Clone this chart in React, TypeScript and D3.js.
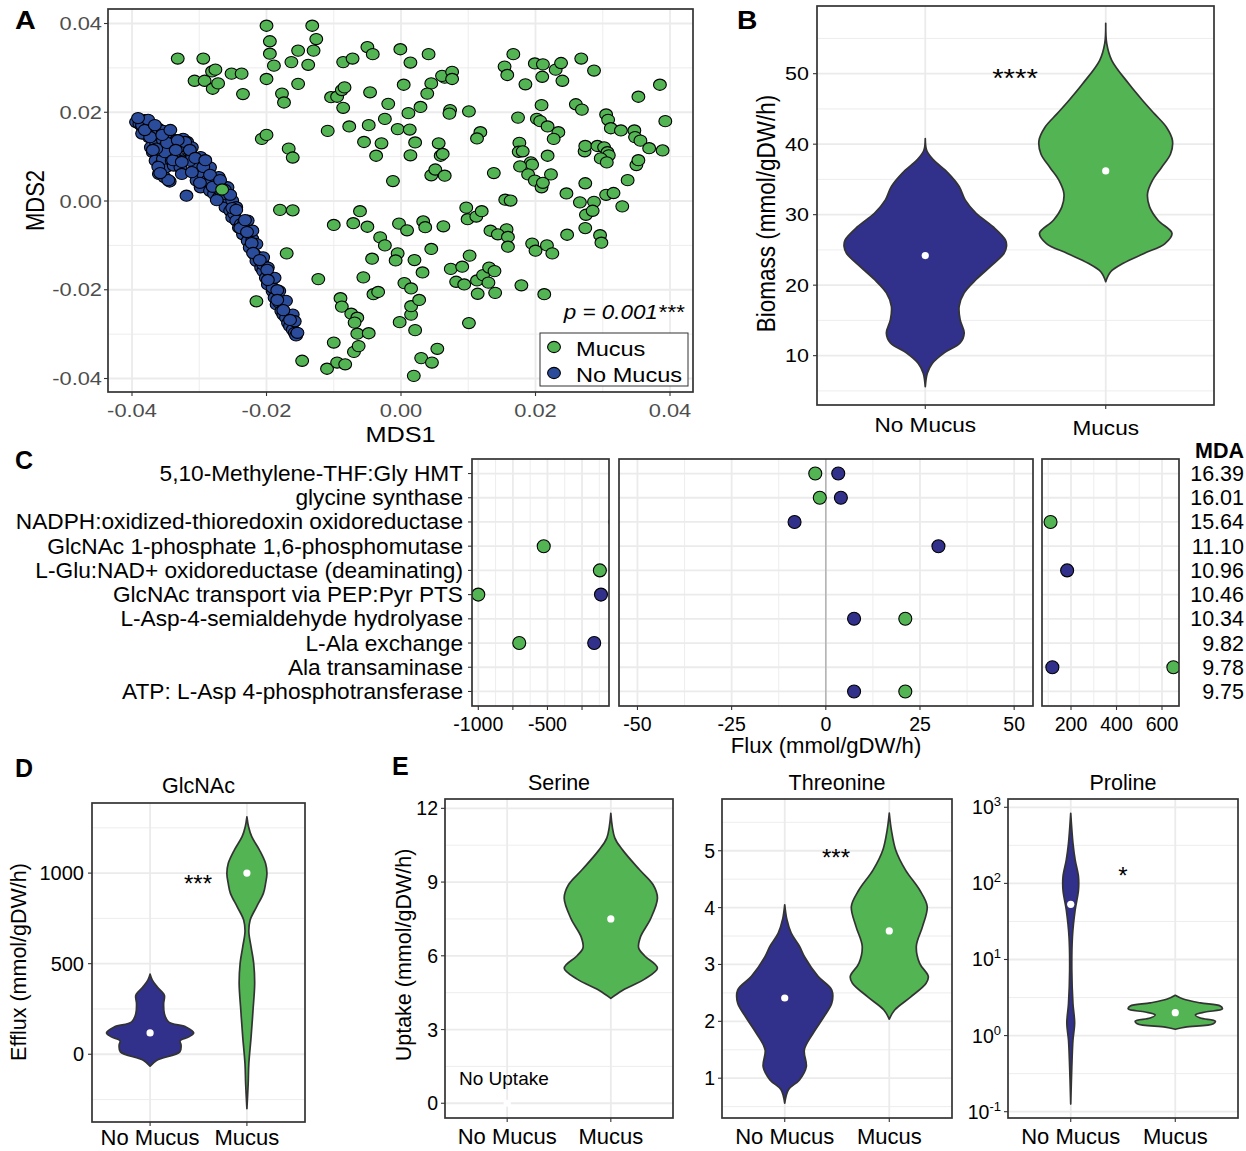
import React from 'react';
import * as d3 from 'd3';

const FONT = '"Liberation Sans", Arial, Helvetica, sans-serif';
const GREEN = '#53B453';
const BLUE_A = '#2B4C9B';
const BLUE = '#31308A';
const GRID = '#EBEBEB';
const DARK = '#333333';

const groups = ['No Mucus', 'Mucus'];

// ---------- A: MDS ordination (coordinates in units of 1e-3) ----------
const mdsTicks = [-40, -20, 0, 20, 40];
const mdsMinor = [-30, -10, 10, 30];
const mucusMDS = [
  [-33.2, 32.1], [-29.4, 32.1], [-30.7, 27.1], [-29.2, 27.1], [-28.1, 29.2], [-27.6, 29.6], [-28.0, 25.3], [-27.2, 26.5], [-25.2, 28.7], [-23.7, 28.7], [-23.5, 24.1],
  [-20.0, 39.5], [-19.5, 36.0], [-19.5, 33.2], [-18.9, 30.5], [-20.0, 27.5], [-16.3, 31.3], [-15.3, 33.9], [-13.2, 39.5], [-12.6, 36.5], [-13.0, 33.9], [-13.8, 30.7], [-15.3, 26.4], [-17.7, 24.2], [-17.4, 22.2],
  [-20.7, 14.0], [-20.0, 14.9], [-16.7, 11.8], [-16.1, 9.8],
  [-8.6, 31.3], [-7.2, 32.1], [-5.0, 34.7], [-4.2, 33.1], [-0.1, 34.2], [1.4, 31.2], [4.1, 33.1], [0.4, 26.2], [4.5, 26.5], [3.9, 24.2], [2.9, 21.2], [1.1, 19.8],
  [-10.4, 23.4], [-9.5, 23.5], [-8.8, 25.0], [-8.4, 25.6], [-4.6, 24.5], [-8.6, 21.0], [-1.9, 21.9], [-2.4, 18.5],
  [-10.9, 15.8], [-7.7, 16.8], [-4.8, 17.1], [-5.5, 13.3], [-2.9, 13.0], [-3.7, 10.2], [-0.5, 16.2], [1.3, 16.1], [2.1, 13.2], [1.4, 10.3],
  [-1.2, 4.5], [4.5, 5.8], [5.1, 7.1], [6.5, 5.7], [5.6, 13.0], [5.9, 10.2], [6.2, 10.6],
  [6.5, 27.8], [6.1, 28.2], [7.6, 29.1], [7.6, 27.5], [7.3, 20.5], [7.2, 19.7], [10.1, 20.2],
  [11.8, 15.5], [11.3, 14.1], [13.8, 6.3],
  [15.4, 30.3], [15.8, 28.4], [16.7, 33.1], [18.5, 26.3], [19.9, 31.0], [21.1, 30.8], [21.0, 28.0], [23.0, 29.6], [23.8, 31.1], [24.0, 27.1], [26.8, 32.1], [28.7, 29.4],
  [20.9, 21.6], [26.0, 21.8], [26.9, 20.6], [17.4, 18.8], [20.2, 18.5], [20.7, 18.0], [21.8, 16.8], [23.4, 15.5], [22.7, 14.0],
  [17.6, 13.1], [17.5, 11.1], [18.1, 11.2], [19.3, 8.7], [19.5, 8.2], [17.7, 7.8], [18.9, 6.0], [19.9, 4.6], [20.9, 3.1], [21.1, 4.1], [22.3, 6.0], [21.8, 10.2],
  [27.3, 11.2], [27.4, 12.4], [29.2, 12.4], [30.2, 12.1], [30.7, 11.0], [30.9, 10.3], [29.7, 9.6], [30.6, 8.7],
  [30.5, 19.5], [30.8, 18.3], [31.2, 16.4], [32.7, 15.9], [34.7, 15.9], [35.3, 23.5], [38.5, 26.2], [39.3, 18.0],
  [34.8, 14.4], [35.6, 13.6], [36.9, 11.9], [38.9, 11.4],
  [35.0, 8.1], [35.3, 9.2], [33.7, 4.7], [27.4, 4.0], [24.6, 1.7],
  [15.5, 0.3], [16.3, 0.1], [26.6, -0.3], [28.7, -0.2], [30.5, 1.4], [31.6, 1.8], [32.9, -1.2],
  [27.5, -3.1], [28.5, -2.2], [27.4, -6.1], [24.7, -7.6], [29.6, -7.7], [29.8, -9.4],
  [9.7, -1.5], [9.9, -4.1], [11.2, -3.5], [12.0, -2.3], [15.7, -6.4], [13.3, -6.7], [14.4, -7.5], [15.9, -8.1], [15.9, -10.3],
  [19.5, -9.6], [20.0, -11.2], [21.7, -10.0], [22.5, -11.8],
  [-18.0, -2.0], [-16.1, -2.1], [-10.0, -5.4], [-7.1, -5.0], [-6.1, -2.3], [-5.0, -5.8], [-3.1, -8.2], [-2.4, -10.0], [-0.3, -5.1], [0.9, -6.6], [3.3, -4.6], [3.6, -5.9], [6.3, -5.7],
  [-17.0, -11.8], [-4.3, -13.0], [-0.5, -11.8], [-0.8, -13.4], [2.0, -13.3], [4.5, -10.8],
  [-12.3, -17.6], [-5.6, -17.2], [-4.1, -21.0], [-3.4, -20.5], [0.5, -18.5], [1.5, -19.7], [3.2, -16.1],
  [7.4, -15.3], [9.1, -14.8], [8.2, -18.2], [9.4, -18.8], [10.2, -12.3], [11.3, -17.9], [11.4, -20.9], [12.2, -16.7], [13.1, -15.0], [13.9, -15.8], [13.0, -18.4], [14.0, -20.7], [17.9, -19.0], [21.3, -21.0],
  [-21.5, -22.6], [-9.0, -21.9], [-8.8, -23.8], [-7.4, -25.4], [-6.5, -26.3], [-6.9, -27.4], [-6.5, -29.9], [-4.8, -29.8], [1.5, -25.6], [1.5, -23.7], [2.7, -22.3], [2.1, -29.1], [-0.2, -27.3],
  [10.1, -27.5],
  [-10.0, -31.9], [-7.0, -34.0], [-6.3, -32.7], [-14.7, -36.0], [-11.0, -37.8], [-9.5, -36.4], [-8.3, -36.8], [3.0, -35.4], [4.6, -36.4], [5.4, -33.3], [1.9, -39.4],
  [-26.6, 2.6],
];
const noMucusMDS = [
  [-39.4, 17.8], [-38.9, 17.4], [-38.5, 16.8], [-38.1, 18.2], [-37.7, 17.3], [-38.3, 15.9], [-37.3, 16.3], [-37.1, 15.2], [-37.5, 14.4], [-36.7, 13.7],
  [-37.2, 12.1], [-36.4, 12.9], [-36.9, 11.0], [-36.3, 10.3], [-36.5, 9.1], [-35.9, 8.0], [-35.6, 6.9], [-36.0, 6.1], [-35.2, 5.4], [-34.4, 4.4],
  [-35.0, 7.6], [-35.4, 9.5], [-35.7, 11.4], [-36.1, 14.8], [-35.4, 13.7], [-35.0, 12.5], [-34.8, 15.2], [-34.4, 11.0], [-34.1, 9.1], [-33.8, 8.0],
  [-33.4, 12.1], [-33.1, 9.9], [-32.8, 7.6], [-32.4, 9.1], [-32.6, 6.1], [-32.1, 12.9], [-31.9, 1.2], [-31.8, 13.3], [-31.4, 11.4], [-31.1, 9.9],
  [-30.8, 6.9], [-30.4, 4.6], [-30.1, 8.4], [-29.8, 3.1], [-29.4, 6.1], [-29.1, 7.6], [-28.8, 4.6], [-28.4, 2.3], [-28.1, 5.4], [-27.8, 1.6],
  [-27.4, 3.5], [-27.1, 0.8], [-26.8, 2.3], [-26.4, 0.1], [-26.1, -1.4], [-25.8, 0.8], [-25.4, -2.2], [-25.1, -3.7], [-24.8, -2.9], [-24.5, -4.4],
  [-24.1, -6.0], [-23.8, -5.2], [-23.5, -7.5], [-23.1, -6.7], [-22.8, -9.0], [-22.5, -10.5], [-22.1, -8.6], [-21.8, -12.0], [-21.5, -13.5], [-21.1, -12.7],
  [-20.8, -15.0], [-20.5, -15.8], [-20.1, -17.3], [-19.8, -18.8], [-19.5, -18.0], [-19.1, -20.3], [-18.8, -21.8], [-18.5, -23.3], [-18.1, -22.9], [-17.8, -24.8],
  [-17.5, -25.6], [-17.1, -26.3], [-16.8, -27.5], [-16.5, -28.2], [-16.1, -29.0], [-15.8, -29.7], [-15.6, -30.3], [-20.5, -14.3], [-19.1, -19.5], [-23.3, -4.8],
  [-26.4, 1.6], [-28.4, 4.2], [-30.4, 8.0], [-31.4, 9.1], [-33.1, 12.1], [-33.8, 10.6], [-35.1, 11.0], [-36.4, 11.8], [-37.7, 15.5], [-38.5, 15.2],
  [-36.7, 17.0], [-36.1, 16.3], [-35.4, 15.8], [-33.4, 13.7], [-32.4, 14.0], [-31.1, 12.1], [-29.8, 9.9], [-28.4, 7.6], [-27.1, 5.4], [-25.8, 3.1],
  [-25.1, 0.1], [-24.5, -1.4], [-22.8, -4.4], [-22.1, -6.7], [-21.5, -9.7], [-20.5, -12.7], [-19.8, -15.0], [-18.8, -17.3], [-18.1, -20.3], [-17.1, -22.5],
  [-16.1, -25.6], [-15.8, -27.1],
  [-38.5, 17.1], [-37.6, 18.3], [-37.3, 14.4], [-36.9, 11.5], [-36.1, 7.7], [-34.6, 4.7], [-35.8, 6.3], [-34.8, 13.1], [-33.9, 9.2], [-32.6, 8.8],
  [-32.1, 13.3], [-31.1, 6.5], [-29.9, 4.1], [-29.4, 7.7], [-28.0, 3.2], [-27.4, 0.2], [-25.1, -1.6], [-23.9, -6.1], [-22.2, -9.5], [-22.0, -11.7],
  [-21.0, -13.3], [-19.9, -15.5], [-19.8, -17.8], [-18.4, -20.1], [-18.4, -22.3], [-17.5, -24.6], [-16.5, -26.8], [-15.4, -29.7],
  [-39.1, 18.7], [-38.1, 16.0], [-36.6, 17.1], [-35.5, 14.9], [-34.3, 16.0], [-33.2, 13.7], [-33.5, 11.5], [-31.4, 11.5], [-30.6, 9.7], [-29.1, 9.2],
  [-28.4, 5.9], [-26.9, 4.7], [-26.2, 2.5], [-25.4, 1.4], [-24.5, -2.0], [-23.2, -4.3], [-22.9, -7.0],
];

// ---------- B: biomass violins ----------
const bioTicks = [10, 20, 30, 40, 50];
const bioMinor = [5, 15, 25, 35, 45, 55];
const bioNoMucusV = [5.6, 7.5, 8.9, 10.4, 11.8, 13.2, 15.1, 17.0, 18.9, 20.8, 22.6, 24.5, 25.5, 26.4, 28.3, 30.2, 32.1, 34.0, 35.9, 37.8, 39.1, 40.8];
const bioNoMucusD = [0, 0.025, 0.086, 0.233, 0.429, 0.479, 0.429, 0.417, 0.479, 0.626, 0.798, 0.969, 1, 0.988, 0.834, 0.626, 0.491, 0.417, 0.282, 0.098, 0.018, 0];
const bioMucusV = [20.5, 21.9, 23.1, 24.5, 25.9, 27.35, 29.2, 31.1, 33.0, 34.9, 36.7, 38.6, 40.5, 42.4, 44.3, 46.2, 48.6, 51.9, 54.3, 57.15];
const bioMucusD = [0, 0.061, 0.215, 0.472, 0.73, 0.816, 0.644, 0.54, 0.515, 0.577, 0.687, 0.798, 0.822, 0.748, 0.601, 0.454, 0.282, 0.074, 0.012, 0];
const bioMedian = [24.2, 36.2];

// ---------- C: reaction fluxes ----------
const reactions = [
  '5,10-Methylene-THF:Gly HMT',
  'glycine synthase',
  'NADPH:oxidized-thioredoxin oxidoreductase',
  'GlcNAc 1-phosphate 1,6-phosphomutase',
  'L-Glu:NAD+ oxidoreductase (deaminating)',
  'GlcNAc transport via PEP:Pyr PTS',
  'L-Asp-4-semialdehyde hydrolyase',
  'L-Ala exchange',
  'Ala transaminase',
  'ATP: L-Asp 4-phosphotransferase',
];
const mdaValues = ['16.39', '16.01', '15.64', '11.10', '10.96', '10.46', '10.34', '9.82', '9.78', '9.75'];
const fluxMucus = [-2.8, -1.6, 110, -527, -121, -1000, 21.1, -704, 650, 21.1];
const fluxNoMucus = [3.3, 4.0, -8.3, 29.9, 183, -113, 7.5, -162, 118, 7.5];
const facetLeftTicks = [-1000, -750, -500, -250];
const facetLeftLabels = [-1000, -500];
const facetLeftMinor = [-875, -625, -375, -125];
const facetMidTicks = [-50, -25, 0, 25, 50];
const facetMidMinor = [-37.5, -12.5, 12.5, 37.5];
const facetRightTicks = [200, 400, 600];
const facetRightMinor = [100, 300, 500];

// ---------- D: GlcNAc efflux ----------
const effTicks = [0, 500, 1000];
const effMinor = [-250, 250, 750, 1250];
const effNoMucusV = [-66, -33, 13, 50, 74, 96, 118, 151, 179, 225, 280, 326, 372, 409, 442];
const effNoMucusD = [0, 0.156, 0.682, 0.711, 0.689, 0.889, 1, 0.822, 0.422, 0.327, 0.311, 0.327, 0.162, 0.051, 0];
const effMucusV = [-300, -162, -52, 96, 243, 390, 501, 593, 676, 740, 814, 888, 943, 998, 1053, 1127, 1201, 1256, 1311];
const effMucusD = [0, 0.029, 0.044, 0.096, 0.14, 0.178, 0.156, 0.096, 0.044, 0.073, 0.222, 0.378, 0.429, 0.46, 0.429, 0.289, 0.111, 0.038, 0];
const effMedian = [118, 1000];

// ---------- E: amino acid uptake ----------
const serTicks = [0, 3, 6, 9, 12];
const serMinor = [1.5, 4.5, 7.5, 10.5];
const serMucusV = [4.27, 4.6, 5.05, 5.5, 6.0, 6.33, 6.78, 7.5, 8.35, 8.9, 9.5, 10.3, 10.8, 11.8];
const serMucusD = [0, 0.255, 0.723, 1, 0.723, 0.596, 0.638, 0.851, 1, 0.904, 0.617, 0.255, 0.085, 0];
const serMedian = [0, 7.5];

const thrTicks = [1, 2, 3, 4, 5];
const thrMinor = [0.5, 1.5, 2.5, 3.5, 4.5, 5.5];
const thrNoMucusV = [0.56, 0.8, 0.97, 1.2, 1.5, 1.79, 2.08, 2.32, 2.55, 2.79, 3.14, 3.32, 3.55, 3.79, 4.05];
const thrNoMucusD = [0, 0.081, 0.313, 0.458, 0.417, 0.604, 0.833, 1, 1, 0.708, 0.417, 0.313, 0.138, 0.046, 0];
const thrMucusV = [2.04, 2.2, 2.43, 2.67, 2.79, 3.02, 3.32, 3.67, 4.02, 4.31, 4.66, 5.01, 5.36, 5.66];
const thrMucusD = [0, 0.115, 0.458, 0.783, 0.829, 0.646, 0.575, 0.708, 0.806, 0.646, 0.346, 0.138, 0.046, 0];
const thrMedian = [2.41, 3.59];

const proExps = [-1, 0, 1, 2, 3];
const proMinorExps = [-0.5, 0.5, 1.5, 2.5];
const proNoMucusV = [0.126, 0.389, 0.871, 1.45, 2.63, 7.24, 20.0, 44.7, 81.3, 123, 204, 339, 832];
const proNoMucusD = [0, 0.023, 0.047, 0.083, 0.047, 0.023, 0.036, 0.094, 0.164, 0.164, 0.094, 0.047, 0];
const proMucusV = [1.21, 1.29, 1.43, 1.55, 1.7, 1.86, 2.04, 2.24, 2.45, 2.69, 3.02, 3.39];
const proMucusD = [0, 0.213, 0.809, 0.851, 0.532, 0.426, 0.638, 1, 0.957, 0.532, 0.17, 0];
const proMedian = [53, 2.0];

type Box = { l: number; r: number; t: number; b: number };

function Txt({ x, y, children, size = 20, anchor = 'middle', sx = 1, rot = 0, weight = 'normal', italic = false, fill = '#000' }: any) {
  const tr = `translate(${x},${y})` + (sx !== 1 ? ` scale(${sx},1)` : '') + (rot ? ` rotate(${rot})` : '');
  return (
    <text transform={tr} fontSize={size} textAnchor={anchor} fontWeight={weight}
      fontStyle={italic ? 'italic' : 'normal'} fill={fill} fontFamily={FONT}>{children}</text>
  );
}

function Grid({ box, h = [], hMin = [], v = [], vMin = [] }: any) {
  return (
    <g>
      {hMin.map((y: number, i: number) => <line key={'a' + i} x1={box.l} x2={box.r} y1={y} y2={y} stroke={GRID} strokeWidth={0.9} />)}
      {vMin.map((x: number, i: number) => <line key={'b' + i} x1={x} x2={x} y1={box.t} y2={box.b} stroke={GRID} strokeWidth={0.9} />)}
      {h.map((y: number, i: number) => <line key={'c' + i} x1={box.l} x2={box.r} y1={y} y2={y} stroke={GRID} strokeWidth={1.8} />)}
      {v.map((x: number, i: number) => <line key={'d' + i} x1={x} x2={x} y1={box.t} y2={box.b} stroke={GRID} strokeWidth={1.8} />)}
    </g>
  );
}

function Border({ box }: { box: Box }) {
  return <rect x={box.l} y={box.t} width={box.r - box.l} height={box.b - box.t} fill="none" stroke={DARK} strokeWidth={1.7} />;
}

function Violin({ vals, dens, cx, y, hw, fill }: any) {
  const pts = vals.map((v: number, i: number) => [v, dens[i]]);
  const path = d3.area<any>()
    .curve(d3.curveCatmullRom.alpha(0.5))
    .y((p) => y(p[0]))
    .x0((p) => cx - hw * p[1])
    .x1((p) => cx + hw * p[1])(pts);
  return <path d={path || ''} fill={fill} stroke={DARK} strokeWidth={1.7} strokeLinejoin="round" />;
}

function Median({ cx, cy }: any) {
  return <circle cx={cx} cy={cy} r={3.6} fill="#FFFFFF" />;
}

export default function App() {
  // ---- A ----
  const A: Box = { l: 108, r: 693, t: 9, b: 392 };
  const sA = 1.15;
  const xA = d3.scaleLinear().domain([-43.57, 43.42]).range([A.l, A.r]);
  const yA = d3.scaleLinear().domain([-43.04, 43.27]).range([A.b, A.t]);
  const fmtA = (v: number) => (v / 1000).toFixed(2);

  // ---- B ----
  const B: Box = { l: 817, r: 1214, t: 6, b: 405 };
  const sB = 1.13;
  const xB = d3.scalePoint<string>().domain(groups).range([B.l, B.r]).padding(0.6);
  const yB = d3.scaleLinear().domain([3.0, 59.6]).range([B.b, B.t]);
  const hwB = xB.step() * 0.45;

  // ---- C ----
  const cTop = 459, cBot = 706;
  const sC = 1.055;
  const yC = d3.scalePoint<string>().domain(reactions).range([cTop, cBot]).padding(0.6);
  const facets = [
    { box: { l: 472, r: 609, t: cTop, b: cBot }, domain: [-1045.5, -55], ticks: facetLeftTicks, labels: facetLeftLabels, minor: facetLeftMinor, zero: false },
    { box: { l: 619, r: 1033, t: cTop, b: cBot }, domain: [-54.9, 55.0], ticks: facetMidTicks, labels: facetMidTicks, minor: facetMidMinor, zero: true },
    { box: { l: 1042, r: 1179, t: cTop, b: cBot }, domain: [72.5, 674.7], ticks: facetRightTicks, labels: facetRightTicks, minor: facetRightMinor, zero: false },
  ].map((f) => ({ ...f, x: d3.scaleLinear().domain(f.domain).range([f.box.l, f.box.r]) }));

  // ---- D ----
  const D: Box = { l: 92, r: 305, t: 803, b: 1122 };
  const xD = d3.scalePoint<string>().domain(groups).range([D.l, D.r]).padding(0.6);
  const yD = d3.scaleLinear().domain([-374, 1387]).range([D.b, D.t]);
  const hwD = xD.step() * 0.45;

  // ---- E ----
  const eTop = 799, eBot = 1118;
  const ES: Box = { l: 445, r: 673, t: eTop, b: eBot };
  const ET: Box = { l: 722, r: 952, t: eTop, b: eBot };
  const EP: Box = { l: 1008, r: 1238, t: eTop, b: eBot };
  const xES = d3.scalePoint<string>().domain(groups).range([ES.l, ES.r]).padding(0.6);
  const xET = d3.scalePoint<string>().domain(groups).range([ET.l, ET.r]).padding(0.6);
  const xEP = d3.scalePoint<string>().domain(groups).range([EP.l, EP.r]).padding(0.6);
  const ySer = d3.scaleLinear().domain([-0.6, 12.38]).range([eBot, eTop]);
  const yThr = d3.scaleLinear().domain([0.3, 5.91]).range([eBot, eTop]);
  const yPro = d3.scaleLog().domain([Math.pow(10, -1.083), Math.pow(10, 3.109)]).range([eBot, eTop]);

  const tick = (x1: number, y1: number, x2: number, y2: number, k: string) => (
    <line key={k} x1={x1} y1={y1} x2={x2} y2={y2} stroke={DARK} strokeWidth={1.1} />
  );

  return (
    <svg width={1246} height={1151} style={{ position: 'absolute', left: 0, top: 0, background: '#fff' }} fontFamily={FONT}>
      <rect x={0} y={0} width={1246} height={1151} fill="#fff" />

      {/* ================= A ================= */}
      <Grid box={A} h={mdsTicks.map(yA)} hMin={mdsMinor.map(yA)} v={mdsTicks.map(xA)} vMin={mdsMinor.map(xA)} />
      {noMucusMDS.map((p, i) => (
        <ellipse key={'nm' + i} cx={xA(p[0])} cy={yA(p[1])} rx={6.4} ry={5.6} fill={BLUE_A} stroke="#000" strokeWidth={1.1} />
      ))}
      {mucusMDS.map((p, i) => (
        <ellipse key={'m' + i} cx={xA(p[0])} cy={yA(p[1])} rx={6.4} ry={5.6} fill={GREEN} stroke="#000" strokeWidth={1.1} />
      ))}
      <Border box={A} />
      {mdsTicks.map((t, i) => tick(A.l - 4, yA(t), A.l, yA(t), 'ay' + i))}
      {mdsTicks.map((t, i) => tick(xA(t), A.b, xA(t), A.b + 4, 'ax' + i))}
      {mdsTicks.map((t) => (
        <Txt key={'ayl' + t} x={A.l - 6} y={yA(t) + 6.7} size={19} anchor="end" sx={sA} fill="#4D4D4D">{fmtA(t)}</Txt>
      ))}
      {mdsTicks.map((t) => (
        <Txt key={'axl' + t} x={xA(t)} y={417} size={19} sx={sA} fill="#4D4D4D">{fmtA(t)}</Txt>
      ))}
      <Txt x={(A.l + A.r) / 2} y={442} size={22} sx={sA}>MDS1</Txt>
      <Txt x={44} y={(A.t + A.b) / 2} size={22} sx={sA} rot={-90}>MDS2</Txt>
      <Txt x={684} y={319} size={19.5} sx={sA} anchor="end" italic>p = 0.001***</Txt>
      <rect x={540} y={333} width={148} height={53} fill="#fff" stroke={DARK} strokeWidth={1} />
      <ellipse cx={554} cy={347} rx={6.4} ry={5.6} fill={GREEN} stroke="#000" strokeWidth={1.1} />
      <ellipse cx={554} cy={373} rx={6.4} ry={5.6} fill={BLUE_A} stroke="#000" strokeWidth={1.1} />
      <Txt x={576} y={356} size={20.5} sx={sA} anchor="start">Mucus</Txt>
      <Txt x={576} y={382} size={20.5} sx={sA} anchor="start">No Mucus</Txt>
      <Txt x={15} y={29} size={25} sx={sA} anchor="start" weight="bold">A</Txt>

      {/* ================= B ================= */}
      <Grid box={B} h={bioTicks.map(yB)} hMin={bioMinor.map(yB)} v={groups.map((g) => xB(g) as number)} />
      <Violin vals={bioNoMucusV} dens={bioNoMucusD} cx={xB('No Mucus')} y={yB} hw={hwB} fill={BLUE} />
      <Violin vals={bioMucusV} dens={bioMucusD} cx={xB('Mucus')} y={yB} hw={hwB} fill={GREEN} />
      {groups.map((g, i) => <Median key={'bm' + g} cx={xB(g)} cy={yB(bioMedian[i])} />)}
      <Border box={B} />
      {bioTicks.map((t, i) => tick(B.l - 4, yB(t), B.l, yB(t), 'by' + i))}
      {groups.map((g, i) => tick(xB(g) as number, B.b, xB(g) as number, B.b + 4, 'bx' + i))}
      {bioTicks.map((t) => (
        <Txt key={'byl' + t} x={B.l - 8} y={yB(t) + 6.7} size={19} anchor="end" sx={sB}>{t}</Txt>
      ))}
      {groups.map((g, i) => (
        <Txt key={'bxl' + g} x={xB(g)} y={432 + i * 3} size={20} sx={sB}>{g}</Txt>
      ))}
      <Txt x={775} y={(B.t + B.b) / 2 + 8} size={22.5} sx={sB} rot={-90}>Biomass (mmol/gDW/h)</Txt>
      <Txt x={1015} y={87} size={26} sx={sB}>****</Txt>
      <Txt x={737} y={29} size={25} sx={sB} anchor="start" weight="bold">B</Txt>

      {/* ================= C ================= */}
      <defs>
        {facets.map((f, i) => (
          <clipPath key={'cp' + i} id={'clipC' + i}>
            <rect x={f.box.l} y={f.box.t} width={f.box.r - f.box.l} height={f.box.b - f.box.t} />
          </clipPath>
        ))}
      </defs>
      {facets.map((f, fi) => (
        <g key={'facet' + fi}>
          <Grid box={f.box} h={reactions.map((r) => yC(r) as number)} v={f.ticks.map(f.x)} vMin={f.minor.map(f.x)} />
          {f.zero && <line x1={f.x(0)} x2={f.x(0)} y1={f.box.t} y2={f.box.b} stroke="#B5B5B5" strokeWidth={1.6} />}
          <g clipPath={`url(#clipC${fi})`}>
            {reactions.map((r, i) => (
              <g key={'pt' + i}>
                <circle cx={f.x(fluxMucus[i])} cy={yC(r)} r={6.5} fill={GREEN} stroke="#000" strokeWidth={1.1} />
                <circle cx={f.x(fluxNoMucus[i])} cy={yC(r)} r={6.5} fill={BLUE} stroke="#000" strokeWidth={1.1} />
              </g>
            ))}
          </g>
          <Border box={f.box} />
          {f.ticks.map((t, i) => tick(f.x(t), f.box.b, f.x(t), f.box.b + 4, 'ct' + fi + '-' + i))}
          {f.labels.map((t) => (
            <Txt key={'ctl' + fi + t} x={f.x(t)} y={731} size={19.5}>{String(t)}</Txt>
          ))}
        </g>
      ))}
      {reactions.map((r, i) => tick(facets[0].box.l - 4, yC(r) as number, facets[0].box.l, yC(r) as number, 'cy' + i))}
      {reactions.map((r) => (
        <Txt key={'cl' + r} x={463} y={(yC(r) as number) + 7.5} size={21.5} sx={sC} anchor="end">{r}</Txt>
      ))}
      <Txt x={1244} y={458} size={21.5} anchor="end" weight="bold">MDA</Txt>
      {reactions.map((r, i) => (
        <Txt key={'mda' + i} x={1244} y={(yC(r) as number) + 7.5} size={21.5} anchor="end">{mdaValues[i]}</Txt>
      ))}
      <Txt x={(facets[1].box.l + facets[1].box.r) / 2} y={753} size={21.5} sx={1.03}>Flux (mmol/gDW/h)</Txt>
      <Txt x={15} y={469} size={25} anchor="start" weight="bold">C</Txt>

      {/* ================= D ================= */}
      <Grid box={D} h={effTicks.map(yD)} hMin={effMinor.map(yD)} v={groups.map((g) => xD(g) as number)} />
      <Violin vals={effNoMucusV} dens={effNoMucusD} cx={xD('No Mucus')} y={yD} hw={hwD} fill={BLUE} />
      <Violin vals={effMucusV} dens={effMucusD} cx={xD('Mucus')} y={yD} hw={hwD} fill={GREEN} />
      {groups.map((g, i) => <Median key={'dm' + g} cx={xD(g)} cy={yD(effMedian[i])} />)}
      <Border box={D} />
      {effTicks.map((t, i) => tick(D.l - 4, yD(t), D.l, yD(t), 'dy' + i))}
      {groups.map((g, i) => tick(xD(g) as number, D.b, xD(g) as number, D.b + 4, 'dx' + i))}
      {effTicks.map((t) => (
        <Txt key={'dyl' + t} x={D.l - 8} y={yD(t) + 7} size={20} anchor="end">{t}</Txt>
      ))}
      {groups.map((g) => (
        <Txt key={'dxl' + g} x={xD(g)} y={1145} size={22}>{g}</Txt>
      ))}
      <Txt x={(D.l + D.r) / 2} y={793} size={21.5}>GlcNAc</Txt>
      <Txt x={26} y={962} size={21.5} rot={-90}>Efflux (mmol/gDW/h)</Txt>
      <Txt x={198} y={892} size={24}>***</Txt>
      <Txt x={15} y={777} size={25} anchor="start" weight="bold">D</Txt>

      {/* ================= E ================= */}
      {/* Serine */}
      <Grid box={ES} h={serTicks.map(ySer)} hMin={serMinor.map(ySer)} v={groups.map((g) => xES(g) as number)} />
      <Violin vals={serMucusV} dens={serMucusD} cx={xES('Mucus')} y={ySer} hw={xES.step() * 0.45} fill={GREEN} />
      {groups.map((g, i) => <Median key={'sm' + g} cx={xES(g)} cy={ySer(serMedian[i])} />)}
      <Border box={ES} />
      {serTicks.map((t, i) => tick(ES.l - 4, ySer(t), ES.l, ySer(t), 'sy' + i))}
      {groups.map((g, i) => tick(xES(g) as number, eBot, xES(g) as number, eBot + 4, 'sx' + i))}
      {serTicks.map((t) => (
        <Txt key={'syl' + t} x={ES.l - 7} y={ySer(t) + 7} size={19.5} anchor="end">{t}</Txt>
      ))}
      <Txt x={459} y={1085} size={19} anchor="start">No Uptake</Txt>

      {/* Threonine */}
      <Grid box={ET} h={thrTicks.map(yThr)} hMin={thrMinor.map(yThr)} v={groups.map((g) => xET(g) as number)} />
      <Violin vals={thrNoMucusV} dens={thrNoMucusD} cx={xET('No Mucus')} y={yThr} hw={xET.step() * 0.45} fill={BLUE} />
      <Violin vals={thrMucusV} dens={thrMucusD} cx={xET('Mucus')} y={yThr} hw={xET.step() * 0.45} fill={GREEN} />
      {groups.map((g, i) => <Median key={'tm' + g} cx={xET(g)} cy={yThr(thrMedian[i])} />)}
      <Border box={ET} />
      {thrTicks.map((t, i) => tick(ET.l - 4, yThr(t), ET.l, yThr(t), 'ty' + i))}
      {groups.map((g, i) => tick(xET(g) as number, eBot, xET(g) as number, eBot + 4, 'tx' + i))}
      {thrTicks.map((t) => (
        <Txt key={'tyl' + t} x={ET.l - 7} y={yThr(t) + 7} size={19.5} anchor="end">{t}</Txt>
      ))}
      <Txt x={(ET.l + ET.r) / 2 - 1} y={866} size={24}>***</Txt>

      {/* Proline */}
      <Grid box={EP} h={proExps.map((e) => yPro(Math.pow(10, e)))} hMin={proMinorExps.map((e) => yPro(Math.pow(10, e)))} v={groups.map((g) => xEP(g) as number)} />
      <Violin vals={proNoMucusV} dens={proNoMucusD} cx={xEP('No Mucus')} y={yPro} hw={xEP.step() * 0.45} fill={BLUE} />
      <Violin vals={proMucusV} dens={proMucusD} cx={xEP('Mucus')} y={yPro} hw={xEP.step() * 0.45} fill={GREEN} />
      {groups.map((g, i) => <Median key={'pm' + g} cx={xEP(g)} cy={yPro(proMedian[i])} />)}
      <Border box={EP} />
      {proExps.map((e, i) => tick(EP.l - 4, yPro(Math.pow(10, e)), EP.l, yPro(Math.pow(10, e)), 'py' + i))}
      {groups.map((g, i) => tick(xEP(g) as number, eBot, xEP(g) as number, eBot + 4, 'px' + i))}
      {proExps.map((e) => (
        <text key={'pyl' + e} x={EP.l - 7} y={yPro(Math.pow(10, e)) + 7} fontSize={19.5} textAnchor="end" fontFamily={FONT}>
          10<tspan dy={-8} fontSize={13}>{e}</tspan>
        </text>
      ))}
      <Txt x={(EP.l + EP.r) / 2} y={884} size={24}>*</Txt>

      {[{ box: ES, x: xES, title: 'Serine' }, { box: ET, x: xET, title: 'Threonine' }, { box: EP, x: xEP, title: 'Proline' }].map((p) => (
        <g key={'et' + p.title}>
          <Txt x={(p.box.l + p.box.r) / 2} y={790} size={21.5}>{p.title}</Txt>
          {groups.map((g) => (
            <Txt key={g} x={p.x(g)} y={1144} size={22}>{g}</Txt>
          ))}
        </g>
      ))}
      <Txt x={411} y={955} size={21.5} rot={-90}>Uptake (mmol/gDW/h)</Txt>
      <Txt x={392} y={775} size={25} anchor="start" weight="bold">E</Txt>
    </svg>
  );
}
